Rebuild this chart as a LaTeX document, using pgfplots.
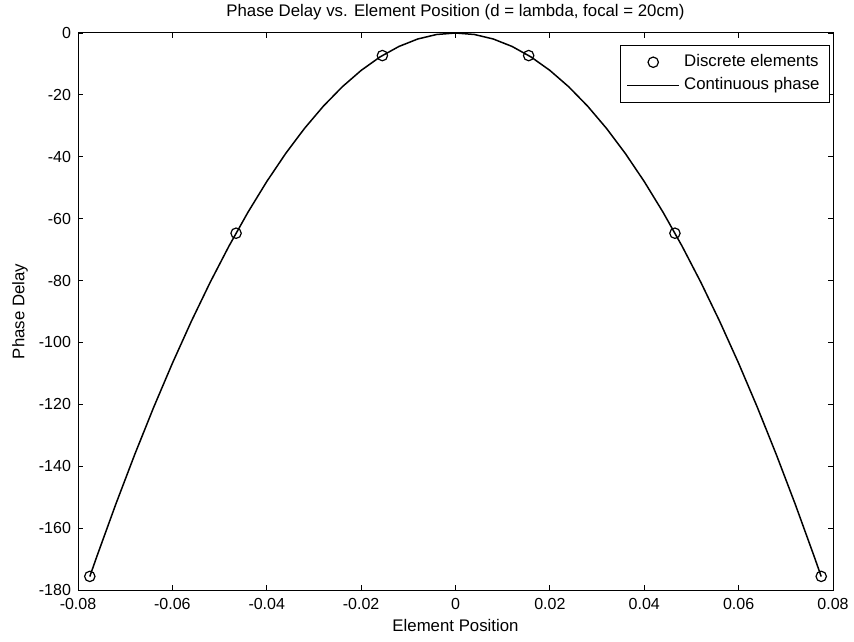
\documentclass[border=0pt]{standalone}
\usepackage{pgfplots}
\pgfplotsset{compat=1.18}
\usepackage{fontspec}
\setmainfont{Liberation Sans}
\pgfplotsset{
  markleg/.style={legend image code/.code={\path[draw=none] (0cm,0cm) -- (0.92cm,0cm);\draw[##1] plot[only marks] coordinates {(0.46cm,0cm)};}},
  lineleg/.style={legend image code/.code={\draw[##1] (0cm,0cm) -- (0.92cm,0cm);}},
}
\begin{document}
\begin{tikzpicture}
\begin{axis}[
  name=ax,
  scale only axis,
  width=377.5pt, height=278.5pt,
  xmin=-0.08, xmax=0.08, ymin=-180, ymax=0,
  scaled x ticks=false, scaled y ticks=false,
  xtick={-0.08,-0.06,-0.04,-0.02,0,0.02,0.04,0.06,0.08},
  ytick={-180,-160,-140,-120,-100,-80,-60,-40,-20,0},
  xticklabels={-0.08,-0.06,-0.04,-0.02,0,0.02,0.04,0.06,0.08},
  yticklabels={-180,-160,-140,-120,-100,-80,-60,-40,-20,0},
  tick align=inside, tick pos=both,
  major tick length=2.5pt,
  axis line style={line width=0.5pt},
  every tick/.style={black, line width=0.4pt},
  tick label style={font=\fontsize{8}{9.5}\selectfont},
  xticklabel style={yshift=-0.5pt},
  label style={font=\fontsize{8.4}{10}\selectfont},
  title style={font=\fontsize{8.4}{10}\selectfont, at={(rel axis cs:0.5,1)}, anchor=center, yshift=4.5pt},
  title={Phase Delay vs. Element Position (d = lambda, focal = 20cm)},
  xlabel={Element Position},
  ylabel={Phase Delay},
  xlabel style={at={(rel axis cs:0.5,0)}, anchor=center, yshift=-17.5pt},
  ylabel style={at={(rel axis cs:0,0.5)}, anchor=center, yshift=29pt},
  legend style={at={(rel axis cs:0.996,0.978)}, anchor=north east,
    font=\fontsize{8.4}{10.5}\selectfont, draw=black, line width=0.4pt,
    inner xsep=3pt, inner ysep=2.5pt, row sep=0pt, cells={anchor=west}},
  legend cell align=left,
]
\addplot[only marks, mark=o, mark size=2.6pt, black, line width=0.6pt, markleg]
coordinates {
(-0.0775,-175.6) (-0.0465,-64.7) (-0.0155,-7.3)
(0.0155,-7.3) (0.0465,-64.7) (0.0775,-175.6)
};
\addlegendentry{Discrete elements}
\addplot[black, line width=0.75pt, mark=none, lineleg]
coordinates {
(-0.0775,-175.64) (-0.076,-169.13) (-0.072,-152.30) (-0.068,-136.29)
(-0.064,-121.09) (-0.060,-106.74) (-0.056,-93.236) (-0.052,-80.597)
(-0.048,-68.840) (-0.044,-57.972) (-0.040,-48.009) (-0.036,-38.960)
(-0.032,-30.834) (-0.028,-23.642) (-0.024,-17.392) (-0.020,-12.091)
(-0.016,-7.745) (-0.012,-4.360) (-0.008,-1.939) (-0.004,-0.485)
(0,0)
(0.004,-0.485) (0.008,-1.939) (0.012,-4.360) (0.016,-7.745)
(0.020,-12.091) (0.024,-17.392) (0.028,-23.642) (0.032,-30.834)
(0.036,-38.960) (0.040,-48.009) (0.044,-57.972) (0.048,-68.840)
(0.052,-80.597) (0.056,-93.236) (0.060,-106.74) (0.064,-121.09)
(0.068,-136.29) (0.072,-152.30) (0.076,-169.13) (0.0775,-175.64)
};
\addlegendentry{Continuous phase}
\end{axis}
\pgfresetboundingbox
\path[use as bounding box] ([shift={(-39pt,-25.5pt)}]ax.south west) rectangle ([shift={(10.5pt,16.5pt)}]ax.north east);
\end{tikzpicture}
\end{document}
